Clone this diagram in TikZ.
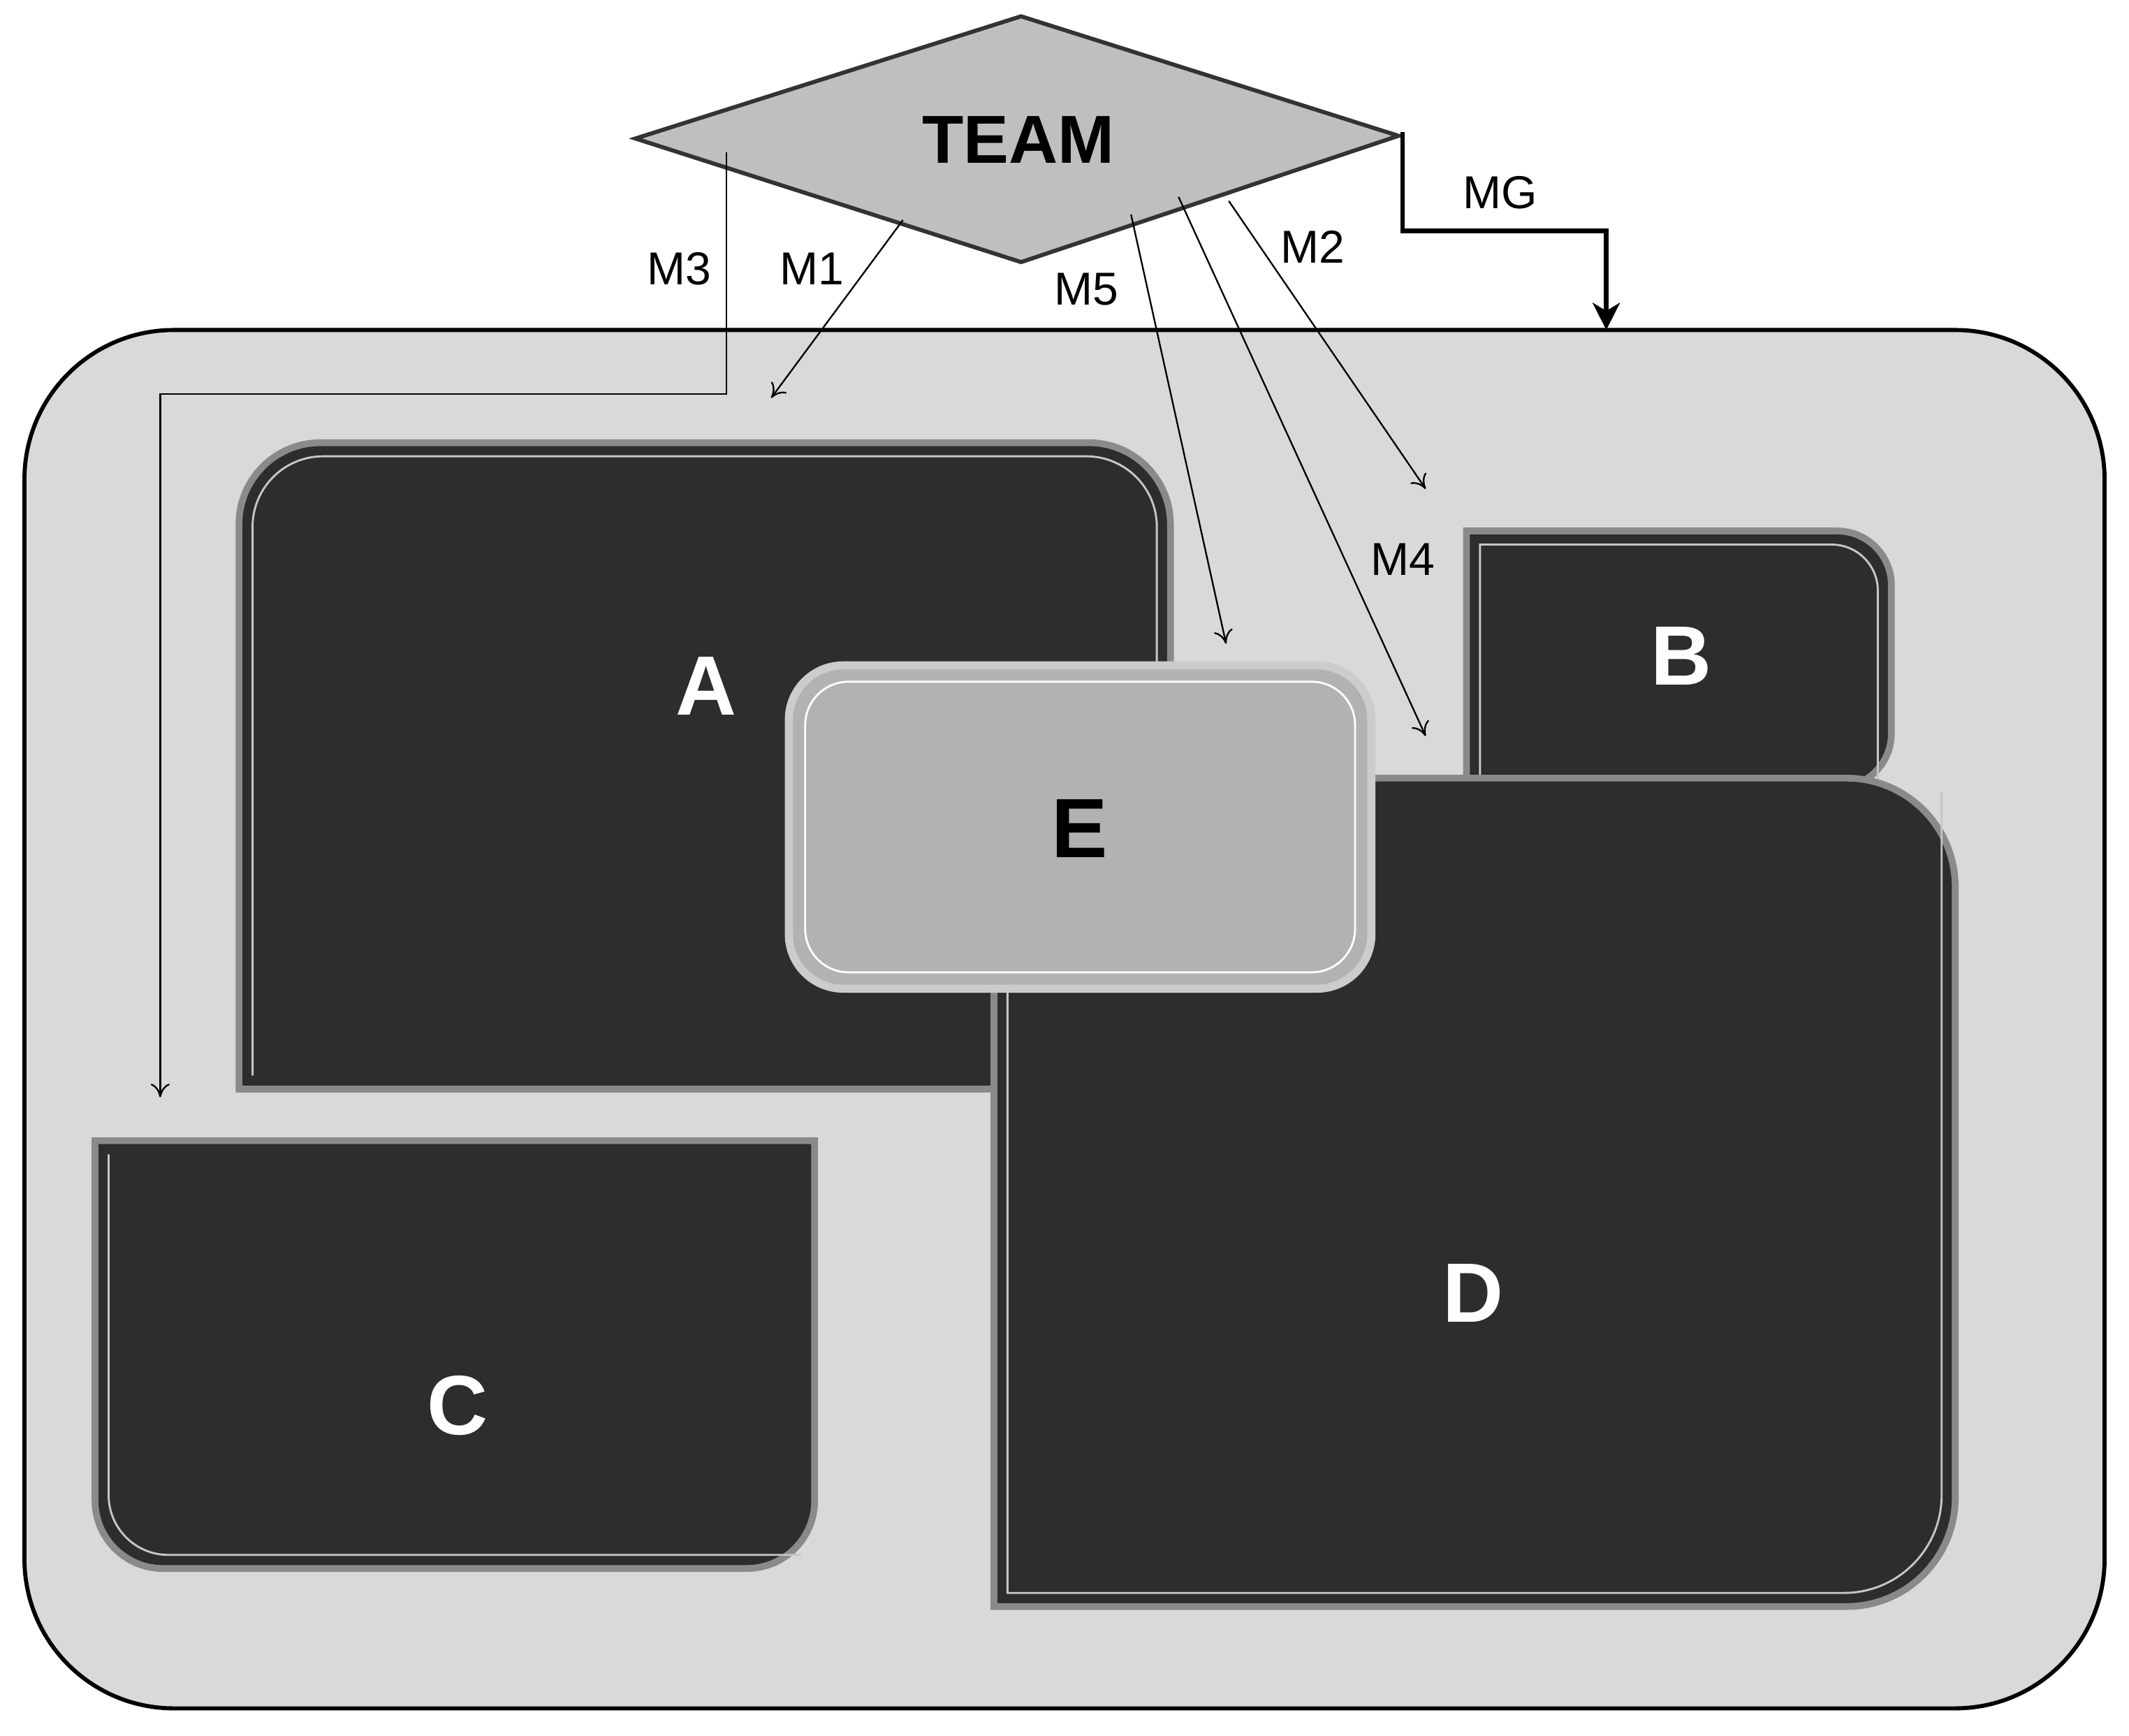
\documentclass[tikz,border=0pt]{standalone}
\usepackage{fontspec}
\setmainfont{Liberation Sans}
\usetikzlibrary{arrows.meta}
\definecolor{panel}{HTML}{2D2D2D}
\definecolor{bev}{HTML}{8A8A8A}
\begin{document}
\begin{tikzpicture}[x=1pt,y=-1pt,
  box/.style={fill=panel,draw=bev,line width=5pt},
  inner/.style={draw=white!55!gray,line width=1.5pt},
  big/.style={text=white,font=\fontsize{62}{62}\selectfont\bfseries},
  lab/.style={font=\fontsize{34}{34}\selectfont},
  thin/.style={draw=black,line width=1.2pt,-{To[length=10pt,width=14pt]}}]
\useasboundingbox (0,0) rectangle (1568,1278);
% outer
\draw[fill=gray!30,line width=3pt,rounded corners=110pt] (18,243) rectangle (1550,1258);
% A
\path[box] (176,802) [rounded corners=60pt] -- (176,326) -- (862,326) [sharp corners] -- (862,802) -- cycle;
\path[inner] (186,792) [rounded corners=52pt] -- (186,336) -- (852,336) [sharp corners] -- (852,792);
% B
\path[box] (1080,580) -- (1080,391) [rounded corners=40pt] -- (1393,391) -- (1393,580) [sharp corners] -- cycle;
\path[inner] (1090,580) -- (1090,401) [rounded corners=34pt] -- (1383,401) -- (1383,580);
% C
\path[box] (70,840) [rounded corners=50pt] -- (70,1155) -- (600,1155) [sharp corners] -- (600,840) -- cycle;
\path[inner] (80,850) [rounded corners=44pt] -- (80,1145) -- (590,1145);
% D
\path[box] (732,573) -- (732,1183) [rounded corners=80pt] -- (1440,1183) -- (1440,573) [sharp corners] -- cycle;
\path[inner] (742,583) -- (742,1173) [rounded corners=72pt] -- (1430,1173) -- (1430,583);
% E
\draw[fill=gray!60,draw=gray!40,line width=6pt,rounded corners=40pt] (581,490) rectangle (1010,728);
\draw[draw=white,line width=1.5pt,rounded corners=32pt] (593,502) rectangle (998,716);
\node[big] (A) at (520,505) {A};
\node[big] (B) at (1238,483) {B};
\node[big] (C) at (337,1035) {C};
\node[big] (D) at (1085,952) {D};
\node[big,text=black] (E) at (795,610) {E};
% diamond
\draw[fill=gray!50,draw=black!80,line width=3pt] (468,102) -- (752,12) -- (1030,100) -- (752,193) -- cycle;
\node[font=\fontsize{50}{50}\selectfont\bfseries] (team) at (750,103) {TEAM};
% coordinates
\coordinate (s3) at (535,112); \coordinate (e3) at (118,808);
\coordinate (s1) at (665,162); \coordinate (e1) at (568,293);
\coordinate (s5) at (833,158); \coordinate (e5) at (903,474);
\coordinate (s4) at (868,145); \coordinate (e4) at (1050,542);
\coordinate (s2) at (905,148); \coordinate (e2) at (1050,360);
\coordinate (sg) at (1033,97); \coordinate (eg) at (1183,243);
\draw[thin] (s3) -- (535,290) -- (118,290) -- (e3);
\draw[thin] (s1) -- (e1);
\draw[thin] (s5) -- (e5);
\draw[thin] (s4) -- (e4);
\draw[thin] (s2) -- (e2);
\draw[line width=3.5pt,-{Stealth[length=20pt,width=20pt,inset=6pt]}] (sg) -- (1033,170) -- (1183,170) -- (eg);
\node[lab] (l3) at (500,198) {M3};
\node[lab] (l1) at (598,198) {M1};
\node[lab] (l5) at (800,213) {M5};
\node[lab] (l4) at (1033,412) {M4};
\node[lab] (l2) at (967,182) {M2};
\node[lab] (lg) at (1105,142) {MG};
\end{tikzpicture}
\end{document}
